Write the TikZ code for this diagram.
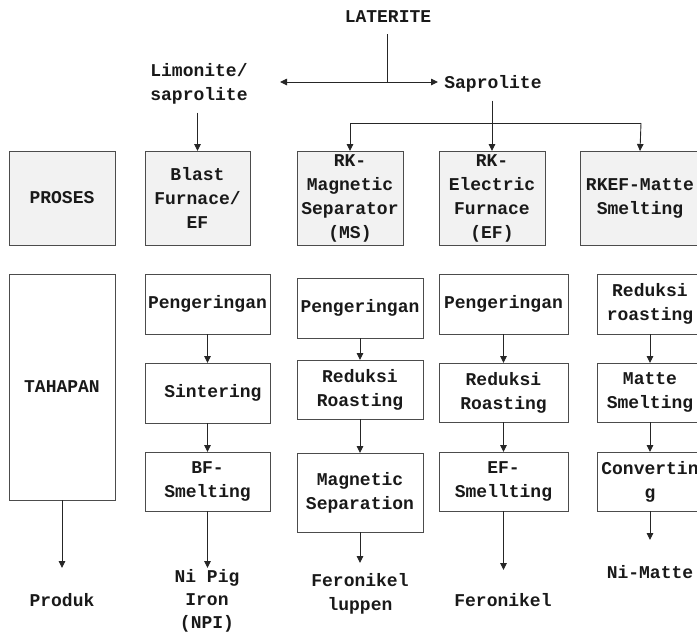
\documentclass[tikz,border=0pt]{standalone}
\usepackage{fontspec}
\setmonofont{Liberation Mono}
\usetikzlibrary{arrows.meta}
\tikzset{
  lbl/.style={font=\ttfamily\bfseries\fontsize{18}{24}\selectfont, align=center, inner sep=0pt, text=black!90},
  bx/.style={lbl, draw=black!70, line width=1pt, outer sep=0pt},
  procbox/.style={bx, fill=gray!10},
  conn/.style={line width=0.9pt, black!85},
  arr/.style={conn, -{Triangle[length=7pt,width=6.5pt]}},
  arrboth/.style={conn, {Triangle[length=7pt,width=6.5pt]}-{Triangle[length=7pt,width=6.5pt]}}
}
\begin{document}
\begin{tikzpicture}[x=1pt,y=-1pt]
\useasboundingbox (0,0) rectangle (697,633);
\clip (0,0) rectangle (697,633);
% top labels
\node[lbl] (lat) at (388,17) {LATERITE};
\node[lbl] (lim) at (199,84) {Limonite/\\saprolite};
\node[lbl] (sap) at (493,84) {Saprolite};
\coordinate (latj) at (387,82);
\coordinate (lt) at (280,82);
\coordinate (rt) at (438,82);
\coordinate (sapj) at (492,123);
\coordinate (sapl) at (350,123);
\coordinate (sapr) at (641,123);
% row 1
\node[procbox, minimum width=106, minimum height=94] (proses) at (62,198) {PROSES};
\node[procbox, minimum width=105, minimum height=94] (bf) at (197.5,198) {Blast\\Furnace/\\EF};
\node[procbox, minimum width=106, minimum height=94] (rkm) at (350,198) {RK-\\Magnetic\\Separator\\(MS)};
\node[procbox, minimum width=106, minimum height=94] (rke) at (492,198) {RK-\\Electric\\Furnace\\(EF)};
\node[procbox, minimum width=120, minimum height=94] (rkef) at (640,198) {RKEF-Matte\\Smelting};
% row 2
\node[bx, minimum width=106, minimum height=226] (tah) at (62,387) {TAHAPAN};
\node[bx, minimum width=125, minimum height=60] (a1) at (207.5,304) {Pengeringan};
\node[bx, minimum width=125, minimum height=60] (a2) at (207.5,393) {\ Sintering};
\node[bx, minimum width=125, minimum height=59] (a3) at (207.5,481.5) {BF-\\Smelting};
\node[bx, minimum width=126, minimum height=60] (b1) at (360,308) {Pengeringan};
\node[bx, minimum width=126, minimum height=59] (b2) at (360,389.5) {Reduksi\\Roasting};
\node[bx, minimum width=126, minimum height=79] (b3) at (360,492.5) {Magnetic\\Separation};
\node[bx, minimum width=129, minimum height=60] (c1) at (503.5,304) {Pengeringan};
\node[bx, minimum width=129, minimum height=59] (c2) at (503.5,392.5) {Reduksi\\Roasting};
\node[bx, minimum width=129, minimum height=59] (c3) at (503.5,481.5) {EF-\\Smellting};
\node[bx, minimum width=106, minimum height=60] (d1) at (650,304) {Reduksi\\roasting};
\node[bx, minimum width=106, minimum height=59] (d2) at (650,392.5) {Matte\\Smelting};
\node[bx, minimum width=106, minimum height=59] (d3) at (650,481.5) {Convertin\\g};
% products
\node[lbl] (p0) at (62,600) {Produk};
\node[lbl, font=\ttfamily\bfseries\fontsize{18}{23}\selectfont] (p1) at (207,601) {Ni Pig\\Iron\\(NPI)};
\node[lbl] (p2) at (360,594) {Feronikel\\luppen};
\node[lbl] (p3) at (503,600) {Feronikel};
\node[lbl] (p4) at (650,572) {Ni-Matte};
\coordinate (e0) at (62,568);
\coordinate (e1) at (207.5,568);
\coordinate (e2) at (360,563);
\coordinate (e3) at (503.5,570);
\coordinate (e4) at (650,540);
% connectors top
\draw[conn] ([yshift=-11pt]lat.south -| latj) -- (latj);
\draw[arrboth] (lt) -- (rt);
\draw[arr] ([yshift=-8pt]lim.south -| bf.north) -- (bf.north);
\draw[conn] ([yshift=-8pt]sap.south -| sapj) -- (sapj);
\draw[conn] (sapl) -- (sapr);
\draw[arr] (sapl) -- (rkm.north);
\draw[arr] (sapj) -- (rke.north);
\draw[arr] (sapr) -- (rkef.north);
% column arrows
\draw[arr] (a1) -- (a2);
\draw[arr] (a2) -- (a3);
\draw[arr] (b1) -- (b2);
\draw[arr] (b2) -- (b3);
\draw[arr] (c1) -- (c2);
\draw[arr] (c2) -- (c3);
\draw[arr] (d1) -- (d2);
\draw[arr] (d2) -- (d3);
% product arrows
\draw[arr] (tah.south) -- (e0);
\draw[arr] (a3.south) -- (e1);
\draw[arr] (b3.south) -- (e2);
\draw[arr] (c3.south) -- (e3);
\draw[arr] (d3.south) -- (e4);
\end{tikzpicture}
\end{document}
